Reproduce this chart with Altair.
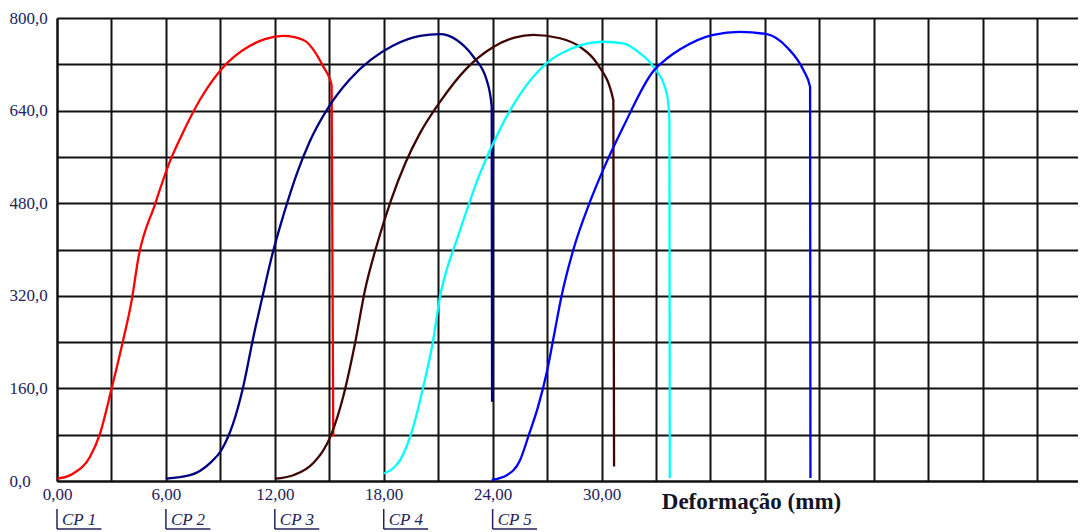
import altair as alt
import pandas as pd

series_names = ["CP 1", "CP 2", "CP 3", "CP 4", "CP 5"]
series_colors = ["#ff0000", "#000080", "#3f0505", "#00ffff", "#0000ff"]

cp1_x = [0.02, 0.90, 1.82, 2.37, 3.01, 3.65, 4.12, 4.48, 5.40, 6.23, 7.00, 7.90, 9.07, 10.63, 11.50, 12.47, 13.57, 14.67, 15.13, 15.22]
cp1_y = [4, 13, 42, 82, 160, 244, 313, 385, 478, 553, 606, 660, 712, 752, 764, 769, 762, 716, 684, 77]

cp2_x = [6.00, 7.33, 8.43, 9.07, 9.71, 10.26, 10.82, 11.28, 11.85, 12.50, 13.20, 13.90, 14.90, 16.10, 17.30, 18.50, 20.00, 21.10, 22.02, 22.94, 23.67, 23.95, 23.97]
cp2_y = [4, 10, 31, 54, 100, 163, 249, 313, 390, 462, 530, 585, 643, 693, 728, 752, 769, 772, 762, 733, 693, 647, 137]

cp3_x = [12.01, 13.02, 14.12, 15.13, 15.77, 16.42, 16.97, 17.70, 18.40, 19.20, 20.00, 21.10, 22.57, 24.04, 25.20, 26.24, 27.71, 28.82, 29.74, 30.65, 30.69]
cp3_y = [4, 10, 31, 82, 146, 238, 330, 416, 485, 550, 601, 655, 713, 750, 766, 771, 765, 750, 722, 658, 25]

cp4_x = [18.00, 18.90, 19.63, 20.18, 20.73, 21.10, 21.47, 22.02, 23.31, 24.41, 25.51, 26.98, 28.26, 30.10, 31.20, 32.12, 32.85, 33.59, 33.74, 33.76]
cp4_y = [13, 36, 94, 163, 244, 318, 365, 416, 532, 608, 668, 722, 746, 759, 756, 739, 716, 670, 624, 5]

cp5_x = [23.95, 24.78, 25.51, 26.00, 26.50, 27.00, 27.40, 27.80, 28.45, 29.37, 30.01, 31.20, 32.85, 33.60, 34.33, 36.16, 37.63, 39.10, 40.20, 41.12, 41.49, 41.51]
cp5_y = [2, 10, 36, 80, 128, 190, 255, 320, 400, 483, 532, 612, 708, 730, 746, 771, 776, 772, 750, 710, 681, 5]

x_grid_values = list(range(0, 57, 3))
x_label_values = [0, 6, 12, 18, 24, 30]
y_grid_values = list(range(0, 801, 80))
y_label_values = [0, 160, 320, 480, 640, 800]

cp_offsets = [0, 6, 12, 18, 24]
cp_bracket_len = 2.45

rows = []
for name, xs, ys in zip(series_names,
                        [cp1_x, cp2_x, cp3_x, cp4_x, cp5_x],
                        [cp1_y, cp2_y, cp3_y, cp4_y, cp5_y]):
    for i, (xv, yv) in enumerate(zip(xs, ys)):
        rows.append({"serie": name, "x": xv, "y": yv, "i": i})
df = pd.DataFrame(rows)

cp_df = pd.DataFrame({"off": cp_offsets, "label": series_names,
                      "off_end": [o + cp_bracket_len for o in cp_offsets]})

FONT = "Liberation Serif"
LABEL_COLOR = "#23235a"

x_label_expr = ("indexof(" + str(x_label_values) + ", datum.value) >= 0 ? "
                "replace(format(datum.value, '.2f'), '.', ',') : ''")
y_label_expr = ("indexof(" + str(y_label_values) + ", datum.value) >= 0 ? "
                "replace(format(datum.value, '.1f'), '.', ',') : ''")

x_enc = alt.X(
    "x:Q",
    scale=alt.Scale(domain=[0, 56.25], zero=False, nice=False),
    axis=alt.Axis(
        values=x_grid_values, labelExpr=x_label_expr, grid=True,
        gridColor="#111111", gridWidth=2, domainColor="#111111", domainWidth=2,
        ticks=False, labelPadding=5, labelFont=FONT, labelFontSize=17,
        labelColor=LABEL_COLOR, labelOverlap=False, labelFlush=False,
        title="Deformação (mm)", titleFont=FONT, titleFontSize=23,
        titleFontWeight="bold", titleColor="#141428", titleX=694, titleY=20,
        titleAlign="center", titleBaseline="middle",
    ),
)
y_enc = alt.Y(
    "y:Q",
    scale=alt.Scale(domain=[0, 800], nice=False),
    axis=alt.Axis(
        values=y_grid_values, labelExpr=y_label_expr, grid=True,
        gridColor="#111111", gridWidth=2, domainColor="#111111", domainWidth=2,
        ticks=False, labelPadding=48, labelAlign="left", labelFont=FONT,
        labelFontSize=17, labelColor=LABEL_COLOR, labelOverlap=False,
        labelFlush=False, title=None,
    ),
)

lines = alt.Chart(df).mark_line(strokeWidth=2.3, interpolate="monotone").encode(
    x=x_enc,
    y=y_enc,
    color=alt.Color("serie:N", scale=alt.Scale(domain=series_names, range=series_colors), legend=None),
    order=alt.Order("i:Q"),
)

bracket_v = alt.Chart(cp_df).mark_rule(color=LABEL_COLOR, strokeWidth=1.5).encode(
    x="off:Q", y=alt.value(491), y2=alt.value(511)
)
bracket_h = alt.Chart(cp_df).mark_rule(color=LABEL_COLOR, strokeWidth=1.5).encode(
    x="off:Q", x2="off_end:Q", y=alt.value(511)
)
cp_text = alt.Chart(cp_df).mark_text(
    align="left", baseline="alphabetic", dx=5, font=FONT, fontStyle="italic",
    fontSize=17, color=LABEL_COLOR,
).encode(x="off:Q", y=alt.value(507), text="label:N")

chart = alt.layer(lines, bracket_v, bracket_h, cp_text).properties(
    width=1021, height=463,
    padding={"left": 49, "top": 10, "right": 0, "bottom": 50},
    autosize=alt.AutoSizeParams(type="none"),
    background="white",
).configure_view(strokeWidth=0)

chart.save("out.html", embed_options={"renderer": "svg", "actions": False})
